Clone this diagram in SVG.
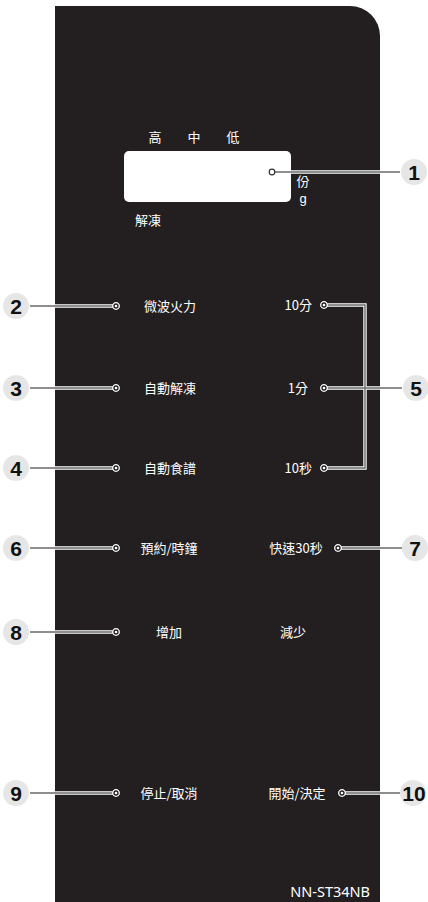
<svg xmlns="http://www.w3.org/2000/svg" width="428" height="902" viewBox="0 0 428 902">
<style>
.lbl{font-family:"Noto Sans CJK TC","Noto Sans",sans-serif;font-size:13px;fill:#fff}
.num{font-family:"Liberation Sans",Arial,sans-serif;font-size:21px;font-weight:bold;fill:#111;text-anchor:middle}
.badge{fill:#e6e6e6}
.lo{fill:none;stroke:#fff;stroke-width:3.4}
.li{fill:none;stroke:#6a6a6a;stroke-width:1.4}
.dot{fill:#231f20;stroke:#fff;stroke-width:1.3}
.dc{fill:#fff}
</style>
<defs>
<g id="d"><circle class="dot" r="3.3"/><circle class="dc" r="1.3"/></g>
</defs>
<rect width="428" height="902" fill="#fff"/>
<path id="panel" d="M55,6 H350 A30,30 0 0 1 380,36 V902 H55 Z" fill="#231f20"/>
<g id="display">
<rect x="124" y="151" width="167" height="51" rx="5" fill="#fff"/>
<text class="lbl" x="155" y="142" text-anchor="middle">高</text>
<text class="lbl" x="194" y="142" text-anchor="middle">中</text>
<text class="lbl" x="233" y="142" text-anchor="middle">低</text>
<text class="lbl" x="303" y="186" text-anchor="middle" font-size="12">份</text>
<text x="303" y="203" text-anchor="middle" style="font-family:'Liberation Sans',Arial,sans-serif;font-size:13px;fill:#fff">g</text>
<text class="lbl" x="148" y="225" text-anchor="middle">解凍</text>
</g>
<g id="connectors">
<path class="lo" d="M272,172 H400"/><path class="li" d="M272,172 H400"/>
<path class="lo" d="M30,306 H116 M30,388 H116 M30,468 H116 M30,548 H116 M30,632 H116 M30,793 H116"/>
<path class="li" d="M30,306 H116 M30,388 H116 M30,468 H116 M30,548 H116 M30,632 H116 M30,793 H116"/>
<path class="lo" d="M324,305 H365 V468 H324 M324,388 H402"/>
<path class="li" d="M324,305 H365 V468 H324 M324,388 H402"/>
<path class="lo" d="M338,548 H402 M342,793 H400"/>
<path class="li" d="M338,548 H402 M342,793 H400"/>
</g>
<g id="n1"><circle cx="272" cy="172" r="2.8" fill="#fff" stroke="#333" stroke-width="1.2"/><circle class="badge" cx="414" cy="172" r="13"/><text class="num" x="414" y="179.5">1</text></g>
<g id="n2"><use href="#d" x="116" y="306"/><text class="lbl" x="170" y="311" text-anchor="middle">微波火力</text><circle class="badge" cx="16" cy="306" r="13"/><text class="num" x="16" y="313.5">2</text></g>
<g id="n3"><use href="#d" x="116" y="388"/><text class="lbl" x="170" y="393" text-anchor="middle">自動解凍</text><circle class="badge" cx="16" cy="388" r="13"/><text class="num" x="16" y="395.5">3</text></g>
<g id="n4"><use href="#d" x="116" y="468"/><text class="lbl" x="170" y="473" text-anchor="middle">自動食譜</text><circle class="badge" cx="16" cy="468" r="13"/><text class="num" x="16" y="475.5">4</text></g>
<g id="n5">
<use href="#d" x="324" y="305"/><text class="lbl" x="312" y="310" text-anchor="end">10分</text>
<use href="#d" x="324" y="388"/><text class="lbl" x="308" y="393" text-anchor="end">1分</text>
<use href="#d" x="324" y="468"/><text class="lbl" x="312" y="473" text-anchor="end">10秒</text>
<circle class="badge" cx="416" cy="388" r="13"/><text class="num" x="416" y="395.5">5</text></g>
<g id="n6"><use href="#d" x="116" y="548"/><text class="lbl" x="169" y="553" text-anchor="middle">預約/時鐘</text><circle class="badge" cx="16" cy="548" r="13"/><text class="num" x="16" y="555.5">6</text></g>
<g id="n7"><use href="#d" x="338" y="548"/><text class="lbl" x="296" y="553" text-anchor="middle">快速30秒</text><circle class="badge" cx="415" cy="548" r="13"/><text class="num" x="415" y="555.5">7</text></g>
<g id="n8"><use href="#d" x="116" y="632"/><text class="lbl" x="169" y="637" text-anchor="middle">增加</text><circle class="badge" cx="16" cy="632" r="13"/><text class="num" x="16" y="639.5">8</text></g>
<g id="minus"><text class="lbl" x="293" y="637" text-anchor="middle">減少</text></g>
<g id="n9"><use href="#d" x="116" y="793"/><text class="lbl" x="169" y="798" text-anchor="middle">停止/取消</text><circle class="badge" cx="16" cy="793" r="13"/><text class="num" x="16" y="800.5">9</text></g>
<g id="n10"><use href="#d" x="342" y="793"/><text class="lbl" x="297" y="798" text-anchor="middle">開始/決定</text><circle class="badge" cx="413" cy="793" r="13"/><text class="num" x="414" y="800.5">10</text></g>
<text x="370" y="897" text-anchor="end" style="font-family:'Noto Sans',sans-serif;font-size:14.5px;fill:#fff">NN-ST34NB</text>
</svg>
